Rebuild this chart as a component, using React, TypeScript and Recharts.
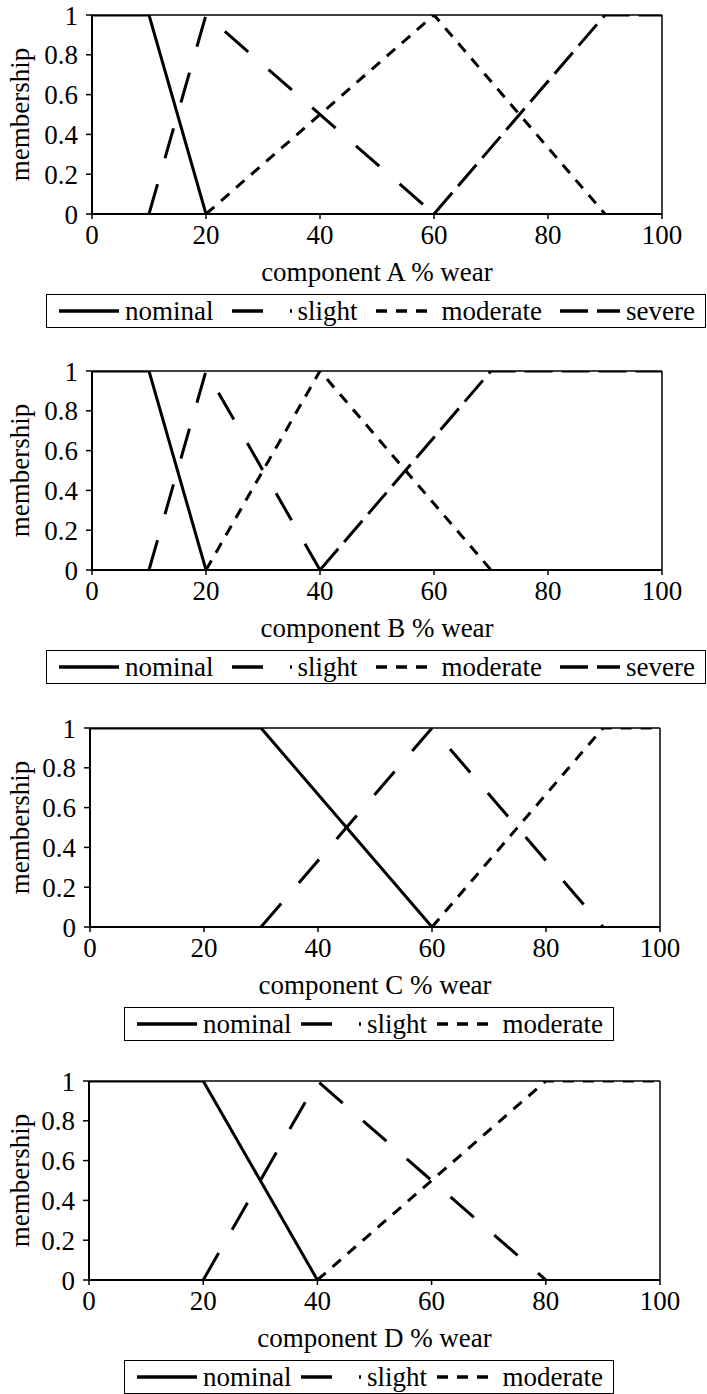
import React from 'react';
import { LineChart, Line, XAxis, YAxis, ReferenceLine, Legend, Label } from 'recharts';

const xTicks = [0, 20, 40, 60, 80, 100];
const yTicks = [0, 0.2, 0.4, 0.6, 0.8, 1];

// Component A
const aNominal = [{ x: 0, y: 1 }, { x: 10, y: 1 }, { x: 20, y: 0 }];
const aSlight = [{ x: 10, y: 0 }, { x: 20, y: 1 }, { x: 60, y: 0 }];
const aModerate = [{ x: 20, y: 0 }, { x: 60, y: 1 }, { x: 90, y: 0 }];
const aSevere = [{ x: 60, y: 0 }, { x: 90, y: 1 }, { x: 100, y: 1 }];

// Component B
const bNominal = [{ x: 0, y: 1 }, { x: 10, y: 1 }, { x: 20, y: 0 }];
const bSlight = [{ x: 10, y: 0 }, { x: 20, y: 1 }, { x: 40, y: 0 }];
const bModerate = [{ x: 20, y: 0 }, { x: 40, y: 1 }, { x: 70, y: 0 }];
const bSevere = [{ x: 40, y: 0 }, { x: 70, y: 1 }, { x: 100, y: 1 }];

// Component C
const cNominal = [{ x: 0, y: 1 }, { x: 30, y: 1 }, { x: 60, y: 0 }];
const cSlight = [{ x: 30, y: 0 }, { x: 60, y: 1 }, { x: 90, y: 0 }];
const cModerate = [{ x: 60, y: 0 }, { x: 90, y: 1 }, { x: 100, y: 1 }];

// Component D
const dNominal = [{ x: 0, y: 1 }, { x: 20, y: 1 }, { x: 40, y: 0 }];
const dSlight = [{ x: 20, y: 0 }, { x: 40, y: 1 }, { x: 80, y: 0 }];
const dModerate = [{ x: 40, y: 0 }, { x: 80, y: 1 }, { x: 100, y: 1 }];

const dashes: Record<string, string | undefined> = {
  nominal: undefined,
  slight: '31 27',
  moderate: '11 9',
  severe: '28 9',
};

const FONT = "'Liberation Serif', 'Times New Roman', Times, 'DejaVu Serif', serif";

const panels = [
  {
    title: 'component A % wear',
    series: [
      { name: 'nominal', data: aNominal },
      { name: 'slight', data: aSlight },
      { name: 'moderate', data: aModerate },
      { name: 'severe', data: aSevere },
    ],
    top: 0, axisW: 92, right: 45, legendLeft: 46, legendWidth: 660,
  },
  {
    title: 'component B % wear',
    series: [
      { name: 'nominal', data: bNominal },
      { name: 'slight', data: bSlight },
      { name: 'moderate', data: bModerate },
      { name: 'severe', data: bSevere },
    ],
    top: 356, axisW: 92, right: 45, legendLeft: 46, legendWidth: 660,
  },
  {
    title: 'component C % wear',
    series: [
      { name: 'nominal', data: cNominal },
      { name: 'slight', data: cSlight },
      { name: 'moderate', data: cModerate },
    ],
    top: 713, axisW: 90, right: 47, legendLeft: 124, legendWidth: 490,
  },
  {
    title: 'component D % wear',
    series: [
      { name: 'nominal', data: dNominal },
      { name: 'slight', data: dSlight },
      { name: 'moderate', data: dModerate },
    ],
    top: 1066, axisW: 89, right: 47, legendLeft: 124, legendWidth: 490,
  },
];

const LegendBox = ({ names }: { names: string[] }) => (
  <div
    style={{
      boxSizing: 'border-box',
      height: 34,
      border: '1.5px solid #000',
      display: 'flex',
      alignItems: 'center',
      justifyContent: 'space-between',
      padding: '0 10px 0 12px',
      fontFamily: FONT,
      fontSize: 27,
      color: '#000',
      background: '#fff',
      whiteSpace: 'nowrap',
    }}
  >
    {names.map((n) => (
      <div key={n} style={{ display: 'flex', alignItems: 'center' }}>
        <svg width={60} height={8} style={{ display: 'block' }}>
          <line x1={0} y1={4} x2={60} y2={4} stroke="#000" strokeWidth={3.5} strokeDasharray={dashes[n]} />
        </svg>
        <span style={{ marginLeft: 6, lineHeight: '30px' }}>{n}</span>
      </div>
    ))}
  </div>
);

const tickStyle = { fontFamily: FONT, fontSize: 27, fill: '#000' };

const Panel = ({ p }: { p: (typeof panels)[number] }) => (
  <div style={{ position: 'absolute', left: 0, top: p.top }}>
    <LineChart width={707} height={345} margin={{ top: 15, right: p.right, bottom: 15, left: 0 }} style={{ fontFamily: FONT }}>
      <XAxis
        dataKey="x"
        type="number"
        domain={[0, 100]}
        ticks={xTicks}
        interval={0}
        height={82}
        tickSize={5}
        tickMargin={6}
        tick={tickStyle}
        axisLine={{ stroke: '#000', strokeWidth: 2 }}
        tickLine={{ stroke: '#000', strokeWidth: 1.5 }}
        allowDataOverflow
      >
        <Label
          content={(props: any) => {
            const vb = props.viewBox || {};
            return (
              <text x={vb.x + vb.width / 2} y={vb.y + 67} textAnchor="middle" style={{ fontFamily: FONT, fontSize: 27 }} fill="#000">
                {p.title}
              </text>
            );
          }}
        />
      </XAxis>
      <YAxis
        dataKey="y"
        type="number"
        domain={[0, 1]}
        ticks={yTicks}
        interval={0}
        width={p.axisW}
        tickSize={6}
        tickMargin={8}
        tick={tickStyle}
        axisLine={{ stroke: '#000', strokeWidth: 2 }}
        tickLine={{ stroke: '#000', strokeWidth: 1.5 }}
        allowDataOverflow
      >
        <Label
          content={(props: any) => {
            const vb = props.viewBox || {};
            const cy = vb.y + vb.height / 2;
            return (
              <text x={20} y={cy} transform={`rotate(-90, 20, ${cy})`} textAnchor="middle" dominantBaseline="central" style={{ fontFamily: FONT, fontSize: 27 }} fill="#000">
                membership
              </text>
            );
          }}
        />
      </YAxis>
      <ReferenceLine y={1} stroke="#000" strokeWidth={1.5} />
      <ReferenceLine x={100} stroke="#000" strokeWidth={1.5} />
      {p.series.map((s) => (
        <Line
          key={s.name}
          name={s.name}
          data={s.data}
          dataKey="y"
          type="linear"
          stroke="#000"
          strokeWidth={3}
          strokeDasharray={dashes[s.name]}
          dot={false}
          activeDot={false}
          isAnimationActive={false}
        />
      ))}
      <Legend
        verticalAlign="bottom"
        wrapperStyle={{ left: p.legendLeft, top: 294, width: p.legendWidth, height: 34 }}
        content={() => <LegendBox names={p.series.map((s) => s.name)} />}
      />
    </LineChart>
  </div>
);

export default function App() {
  return (
    <div style={{ position: 'absolute', left: 0, top: 0, width: 707, height: 1394, overflow: 'hidden', background: '#fff', fontFamily: FONT }}>
      {panels.map((p) => (
        <Panel key={p.title} p={p} />
      ))}
    </div>
  );
}
